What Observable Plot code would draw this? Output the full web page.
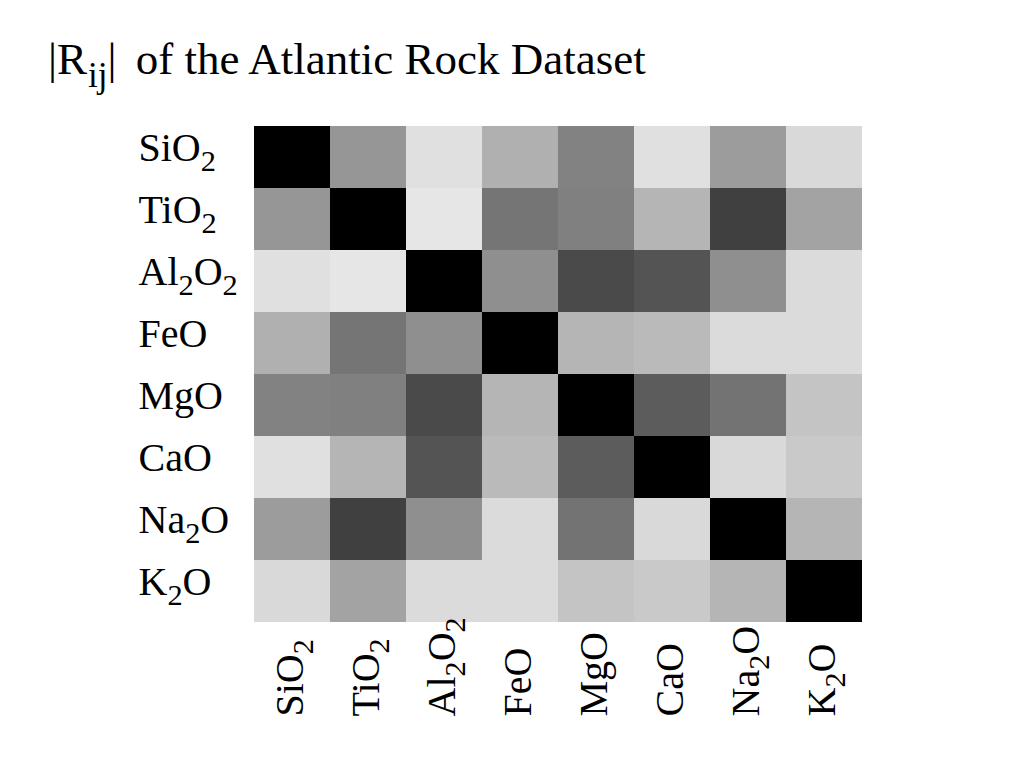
<!DOCTYPE html>
<html>
<head>
<meta charset="utf-8">
<script src="https://cdn.jsdelivr.net/npm/d3@7"></script>
<script src="https://cdn.jsdelivr.net/npm/@observablehq/plot@0.6"></script>
<style>
  html, body { margin: 0; padding: 0; background: #fff; }
  #title {
    font-family: "Liberation Serif", "Times New Roman", serif;
    font-size: 45px; line-height: 44px; height: 63px; padding: 37px 0 0 48px;
    color: #000; white-space: nowrap;
  }
  #title sub { font-size: 0.78em; vertical-align: -0.36em; line-height: 0; margin-left: 1px; }
  #title .gap { margin-left: 8px; }
  svg text { font-family: "Liberation Serif", "Times New Roman", serif; }
</style>
</head>
<body>
<div id="title">|R<sub>ij</sub>|<span class="gap"> of the Atlantic Rock Dataset</span></div>
<div id="chart"></div>
<script>
const oxides = ["SiO2", "TiO2", "Al2O2", "FeO", "MgO", "CaO", "Na2O", "K2O"];
// |R_ij| read from the grey levels (black = 1)
const rSiO2  = [1.00, 0.41, 0.12, 0.31, 0.49, 0.12, 0.39, 0.15];
const rTiO2  = [0.41, 1.00, 0.10, 0.54, 0.50, 0.29, 0.75, 0.36];
const rAl2O2 = [0.12, 0.10, 1.00, 0.44, 0.71, 0.67, 0.44, 0.14];
const rFeO   = [0.31, 0.54, 0.44, 1.00, 0.29, 0.27, 0.14, 0.14];
const rMgO   = [0.49, 0.50, 0.71, 0.29, 1.00, 0.64, 0.55, 0.23];
const rCaO   = [0.12, 0.29, 0.67, 0.27, 0.64, 1.00, 0.15, 0.21];
const rNa2O  = [0.39, 0.75, 0.44, 0.14, 0.55, 0.15, 1.00, 0.29];
const rK2O   = [0.15, 0.36, 0.14, 0.14, 0.23, 0.21, 0.29, 1.00];
const rows = [rSiO2, rTiO2, rAl2O2, rFeO, rMgO, rCaO, rNa2O, rK2O];

const data = [];
rows.forEach((row, i) => row.forEach((v, j) => data.push({row: oxides[i], col: oxides[j], r: v})));

const FS = 40;
const chart = Plot.plot({
  width: 1024,
  height: 668,
  marginTop: 26,
  marginBottom: 146,
  marginLeft: 253,
  marginRight: 162,
  style: {fontSize: FS + "px", fontFamily: "Liberation Serif, serif", background: "white"},
  x: {domain: oxides, padding: 0, label: null},
  y: {domain: oxides, padding: 0, label: null},
  color: {type: "linear", domain: [0, 1], range: ["white", "black"], interpolate: "rgb"},
  marks: [
    Plot.cell(data, {x: "col", y: "row", fill: "r", inset: 0, shapeRendering: "crispEdges"}),
    Plot.axisY({tickSize: 0, tickPadding: 0, textAnchor: "start", lineAnchor: "middle", dx: -115, dy: -9, fontSize: FS, label: null}),
    Plot.axisX({tickSize: 0, tickPadding: 0, tickRotate: -90, textAnchor: "start", lineAnchor: "middle", dx: -2, dy: 94, fontSize: FS, label: null})
  ]
});

// Render digits in chemical formulas as subscripts
d3.select(chart).selectAll("g[aria-label$='tick label'] text").each(function() {
  const t = d3.select(this);
  const s = t.text();
  const parts = s.match(/\d+|\D+/g);
  t.text(null);
  let shifted = false;
  parts.forEach(p => {
    const isSub = /\d/.test(p);
    const ts = t.append("tspan").text(p);
    if (isSub) {
      ts.attr("font-size", FS * 0.76).attr("dy", 10);
      shifted = true;
    } else if (shifted) {
      ts.attr("dy", -10);
      shifted = false;
    }
  });
});

document.getElementById("chart").appendChild(chart);
</script>
</body>
</html>
